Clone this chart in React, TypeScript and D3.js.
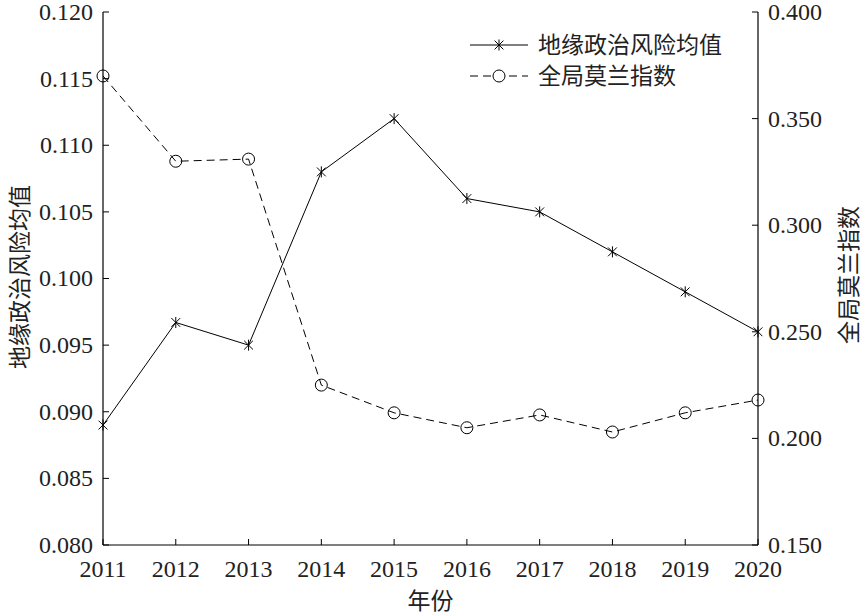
import React from "react";
import * as d3 from "d3";

const years = [2011, 2012, 2013, 2014, 2015, 2016, 2017, 2018, 2019, 2020];
const riskMean = [0.089, 0.0967, 0.095, 0.108, 0.112, 0.106, 0.105, 0.102, 0.099, 0.096];
const moranI = [0.370, 0.330, 0.331, 0.225, 0.212, 0.205, 0.211, 0.203, 0.212, 0.218];
const leftTicks = [0.080, 0.085, 0.090, 0.095, 0.100, 0.105, 0.110, 0.115, 0.120];
const rightTicks = [0.150, 0.200, 0.250, 0.300, 0.350, 0.400];
const seriesNames = ["地缘政治风险均值", "全局莫兰指数"];
const xLabel = "年份";
const leftLabel = "地缘政治风险均值";
const rightLabel = "全局莫兰指数";

const W = 863, H = 615;
const L = 103, R = 758, T = 12, B = 545;
const FONT = "\"Liberation Serif\", \"DejaVu Serif\", serif";
const CJK = "\"Noto Sans CJK SC\", sans-serif";

function Asterisk({ x, y, s = 5.5 }: { x: number; y: number; s?: number }) {
  const d = s * 0.8;
  return (
    <g stroke="#000" strokeWidth={1}>
      <line x1={x} y1={y - s} x2={x} y2={y + s} />
      <line x1={x - d} y1={y - d} x2={x + d} y2={y + d} />
      <line x1={x - d} y1={y + d} x2={x + d} y2={y - d} />
    </g>
  );
}

export default function App() {
  const x = d3.scaleLinear().domain([2011, 2020]).range([L, R]);
  const yL = d3.scaleLinear().domain([0.08, 0.12]).range([B, T]);
  const yR = d3.scaleLinear().domain([0.15, 0.4]).range([B, T]);
  const lineL = d3.line<number>().x((_, i) => x(years[i])).y((d) => yL(d));
  const lineR = d3.line<number>().x((_, i) => x(years[i])).y((d) => yR(d));
  const tk = 6;
  const num = { fontFamily: FONT, fontSize: "24px" } as React.CSSProperties;
  const cjk = { fontFamily: CJK, fontSize: "23px" } as React.CSSProperties;
  return (
    <svg width={W} height={H} style={{ position: "absolute", left: 0, top: 0, background: "#fff" }}>
      <rect width={W} height={H} fill="#fff" />
      <line x1={L} y1={T} x2={L} y2={B} stroke="#000" strokeWidth={1.2} />
      <line x1={R} y1={T} x2={R} y2={B} stroke="#000" strokeWidth={1.2} />
      <line x1={L} y1={B} x2={R} y2={B} stroke="#000" strokeWidth={1.2} />
      {leftTicks.map((t) => (
        <g key={"l" + t}>
          <line x1={L} x2={L + tk} y1={yL(t)} y2={yL(t)} stroke="#000" />
          <text x={L - 10} y={yL(t)} dy="0.33em" textAnchor="end" style={num} fill="#222">
            {d3.format(".3f")(t)}
          </text>
        </g>
      ))}
      {rightTicks.map((t) => (
        <g key={"r" + t}>
          <line x1={R} x2={R - tk} y1={yR(t)} y2={yR(t)} stroke="#000" />
          <text x={R + 10} y={yR(t)} dy="0.33em" textAnchor="start" style={num} fill="#222">
            {d3.format(".3f")(t)}
          </text>
        </g>
      ))}
      {years.map((yr) => (
        <g key={"x" + yr}>
          <line x1={x(yr)} x2={x(yr)} y1={B} y2={B - tk} stroke="#000" />
          <text x={x(yr)} y={B + 32} textAnchor="middle" style={num} fill="#222">
            {yr}
          </text>
        </g>
      ))}
      <text x={(L + R) / 2} y={609} textAnchor="middle" style={cjk} fill="#222">
        {xLabel}
      </text>
      <text transform={`translate(28,277) rotate(-90)`} textAnchor="middle" style={cjk} fill="#222">
        {leftLabel}
      </text>
      <text transform={`translate(857,275) rotate(-90)`} textAnchor="middle" style={cjk} fill="#222">
        {rightLabel}
      </text>
      <path d={lineL(riskMean) || ""} fill="none" stroke="#000" strokeWidth={1} />
      {riskMean.map((v, i) => (
        <Asterisk key={"a" + i} x={x(years[i])} y={yL(v)} />
      ))}
      <path d={lineR(moranI) || ""} fill="none" stroke="#000" strokeWidth={1} strokeDasharray="8,5" />
      {moranI.map((v, i) => (
        <circle key={"c" + i} cx={x(years[i])} cy={yR(v)} r={6} fill="none" stroke="#000" strokeWidth={1} />
      ))}
      <g>
        <line x1={470} x2={528} y1={45} y2={45} stroke="#000" />
        <Asterisk x={499} y={45} />
        <text x={538} y={45} dy="0.36em" style={cjk} fill="#222">{seriesNames[0]}</text>
        <line x1={470} x2={528} y1={76} y2={76} stroke="#000" strokeDasharray="8,5" />
        <circle cx={499} cy={76} r={6} fill="#fff" stroke="#000" />
        <text x={538} y={76} dy="0.36em" style={cjk} fill="#222">{seriesNames[1]}</text>
      </g>
    </svg>
  );
}
